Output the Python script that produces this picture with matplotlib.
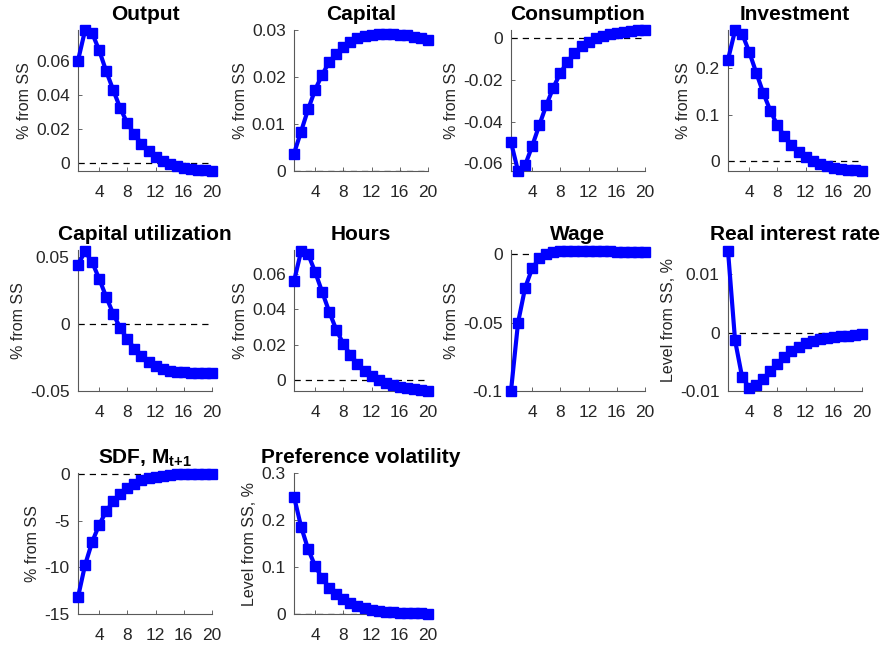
import numpy as np
import matplotlib
matplotlib.use('Agg')
import matplotlib.pyplot as plt

plt.rcParams['font.family'] = ['Liberation Sans', 'DejaVu Sans']
plt.rcParams['mathtext.fontset'] = 'custom'
plt.rcParams['mathtext.rm'] = 'Liberation Sans'
plt.rcParams['mathtext.bf'] = 'Liberation Sans:bold'

# horizon (quarters after the shock)
t = np.arange(1, 21)

# impulse responses
output = [0.0604, 0.0783, 0.0767, 0.0665, 0.0541, 0.0429, 0.0321, 0.0232, 0.0167, 0.0112,
          0.0067, 0.0035, 0.0010, -0.0006, -0.0020, -0.0030, -0.0037, -0.0043, -0.0047, -0.0050]
capital = [0.0037, 0.0084, 0.0131, 0.0173, 0.0205, 0.0232, 0.0250, 0.0264, 0.0275, 0.0282,
           0.0287, 0.0290, 0.0292, 0.0292, 0.0291, 0.0290, 0.0289, 0.0286, 0.0284, 0.0279]
consumption = [-0.0498, -0.0637, -0.0608, -0.0517, -0.0418, -0.0322, -0.0237, -0.0168, -0.0114, -0.0072,
               -0.0040, -0.0018, -0.0002, 0.0011, 0.0019, 0.0026, 0.0030, 0.0034, 0.0037, 0.0038]
investment = [0.219, 0.282, 0.275, 0.236, 0.191, 0.147, 0.109, 0.077, 0.054, 0.035,
              0.019, 0.009, 0.000, -0.006, -0.011, -0.014, -0.017, -0.019, -0.020, -0.0215]
cap_util = [0.0440, 0.0540, 0.0460, 0.0336, 0.0201, 0.0074, -0.0032, -0.0115, -0.0184, -0.0240,
            -0.0282, -0.0314, -0.0336, -0.0348, -0.0355, -0.0360, -0.0363, -0.0365, -0.0365, -0.0365]
hours = [0.0559, 0.0727, 0.0712, 0.0611, 0.0498, 0.0386, 0.0285, 0.0205, 0.0144, 0.0093,
         0.0052, 0.0024, 0.0000, -0.0015, -0.0028, -0.0037, -0.0045, -0.0050, -0.0054, -0.0058]
wage = [-0.1000, -0.0500, -0.0246, -0.0105, -0.0032, 0.0000, 0.0015, 0.0022, 0.0024, 0.0024,
        0.0024, 0.0023, 0.0022, 0.0021, 0.0020, 0.0019, 0.0018, 0.0017, 0.0016, 0.0015]
real_rate = [0.0141, -0.0013, -0.0076, -0.0094, -0.0089, -0.0079, -0.0066, -0.0053, -0.0041, -0.0032,
             -0.0024, -0.0018, -0.0014, -0.0011, -0.0009, -0.0007, -0.0006, -0.0005, -0.0004, -0.0003]
sdf = [-13.2, -9.75, -7.3, -5.45, -4.0, -2.95, -2.15, -1.55, -1.07, -0.70,
       -0.46, -0.30, -0.18, -0.10, -0.05, -0.03, -0.02, -0.01, -0.01, -0.01]
pref_vol = [0.250, 0.186, 0.138, 0.102, 0.076, 0.056, 0.042, 0.031, 0.023, 0.017,
            0.013, 0.0095, 0.007, 0.0052, 0.0039, 0.0029, 0.0021, 0.0016, 0.0012, 0.0009]

titles = ['Output', 'Capital', 'Consumption', 'Investment',
          'Capital utilization', 'Hours', 'Wage', 'Real interest rate',
          r'SDF, $\mathbf{M_{t{+}1}}$', 'Preference volatility']
series = [output, capital, consumption, investment,
          cap_util, hours, wage, real_rate, sdf, pref_vol]
ylabels = ['% from SS'] * 7 + ['Level from SS, %', '% from SS', 'Level from SS, %']
ylims = [(-0.0050, 0.0785), (0, 0.030), (-0.0636, 0.0038), (-0.0215, 0.283),
         (-0.05, 0.055), (-0.006, 0.0735), (-0.1, 0.003), (-0.01, 0.0142),
         (-15, 0.1), (0, 0.3)]
yticks = [[0, 0.02, 0.04, 0.06], [0, 0.01, 0.02, 0.03], [-0.06, -0.04, -0.02, 0],
          [0, 0.1, 0.2], [-0.05, 0, 0.05], [0, 0.02, 0.04, 0.06], [-0.1, -0.05, 0],
          [-0.01, 0, 0.01], [-15, -10, -5, 0], [0, 0.1, 0.2, 0.3]]

W, H = 881, 645
fig = plt.figure(figsize=(W / 100, H / 100), dpi=100)

lefts = [78, 294, 511, 728]
tops = [30, 250, 473]
aw, ah = 134, 141

for k in range(len(series)):
    r, c = divmod(k, 4)
    ax = fig.add_axes([lefts[c] / W, 1 - (tops[r] + ah) / H, aw / W, ah / H])
    ax.plot([1, 20], [0, 0], '--', color='k', lw=0.9, dashes=(5, 4))
    ax.plot(t, series[k], '-s', color=(0, 0, 1), lw=3, ms=7,
            mfc=(0, 0, 1), mec=(0, 0, 1), clip_on=False, zorder=3)
    ax.set_xlim(1, 20)
    ax.set_ylim(*ylims[k])
    ax.set_xticks([4, 8, 12, 16, 20])
    ax.set_yticks(yticks[k])
    ax.set_yticklabels(['%g' % v for v in yticks[k]])
    for s in ['top', 'right']:
        ax.spines[s].set_visible(False)
    for s in ['left', 'bottom']:
        ax.spines[s].set_color('0.35')
        ax.spines[s].set_linewidth(0.8)
    ax.tick_params(direction='in', length=3, width=0.6, color='0.3',
                   labelsize=12.5, labelcolor='0.15')
    ax.tick_params(axis='x', pad=10)
    ax.tick_params(axis='y', pad=6)
    ax.set_ylabel(ylabels[k], fontsize=11.5, color='0.15', labelpad=3)
    ax.set_title(titles[k], fontsize=15, fontweight='bold', pad=7)

fig.savefig('out.png', dpi=100)
